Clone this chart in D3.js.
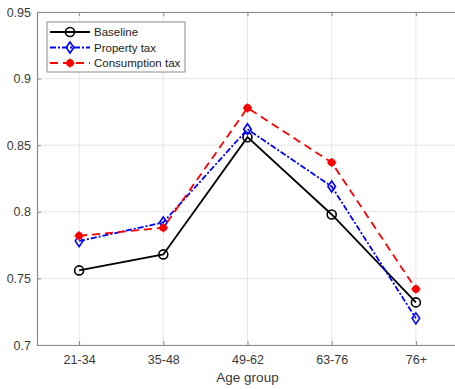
<!DOCTYPE html>
<html>
<head>
<meta charset="utf-8">
<script src="https://cdn.jsdelivr.net/npm/d3@7"></script>
<style>
  body { margin: 0; background: #fff; }
  svg { font-family: Arial, "Liberation Sans", sans-serif; }
</style>
</head>
<body>
<svg id="chart" width="455" height="389"></svg>
<script>
const ageGroups = ['21-34', '35-48', '49-62', '63-76', '76+'];
const baseline = [0.756, 0.768, 0.856, 0.798, 0.732];
const propertyTax = [0.778, 0.792, 0.862, 0.819, 0.720];
const consumptionTax = [0.782, 0.788, 0.878, 0.837, 0.742];
const yTicks = [0.7, 0.75, 0.8, 0.85, 0.9, 0.95];

const svg = d3.select('#chart');
const margin = { top: 12, right: -3, bottom: 44, left: 37 };
const width = +svg.attr('width') - margin.left - margin.right;
const height = +svg.attr('height') - margin.top - margin.bottom;
const g = svg.append('g').attr('transform', `translate(${margin.left},${margin.top})`);

const x = d3.scaleLinear().domain([0.5, 5.5]).range([0, width]);
const y = d3.scaleLinear().domain([0.7, 0.95]).range([height, 0]);

const axisColor = '#8a8a8a';
const textColor = '#3a3a3a';

// grid
g.append('g')
  .selectAll('line')
  .data(ageGroups)
  .enter()
  .append('line')
  .attr('x1', (d, i) => x(i + 1))
  .attr('x2', (d, i) => x(i + 1))
  .attr('y1', 0)
  .attr('y2', height)
  .attr('stroke', '#e6e6e6');

g.append('g')
  .selectAll('line')
  .data(yTicks)
  .enter()
  .append('line')
  .attr('x1', 0)
  .attr('x2', width)
  .attr('y1', d => y(d))
  .attr('y2', d => y(d))
  .attr('stroke', '#e6e6e6');

// axes
const xAxis = g.append('g')
  .attr('transform', `translate(0,${height})`)
  .call(d3.axisBottom(x)
    .tickValues(d3.range(1, ageGroups.length + 1))
    .tickFormat(d => ageGroups[d - 1])
    .tickSizeInner(-4)
    .tickSizeOuter(0)
    .tickPadding(10));

const yAxis = g.append('g')
  .call(d3.axisLeft(y)
    .tickValues(yTicks)
    .tickFormat(d => d3.format('')(+d.toFixed(2)))
    .tickSizeInner(-4)
    .tickSizeOuter(0)
    .tickPadding(6));

const topAxis = g.append('g')
  .call(d3.axisTop(x)
    .tickValues(d3.range(1, ageGroups.length + 1))
    .tickFormat('')
    .tickSizeInner(-4)
    .tickSizeOuter(0));

[xAxis, yAxis, topAxis].forEach((a) => {
  a.select('.domain').attr('stroke', axisColor).attr('stroke-width', 1.2);
  a.selectAll('.tick line').attr('stroke', axisColor);
  a.selectAll('.tick text')
    .attr('fill', textColor)
    .attr('font-size', 12.5)
    .attr('font-family', 'Arial, "Liberation Sans", sans-serif');
});

g.append('text')
  .attr('x', (x(0.5) + x(5.5)) / 2)
  .attr('y', height + 37)
  .attr('text-anchor', 'middle')
  .attr('fill', textColor)
  .attr('font-size', 13.5)
  .text('Age group');

const series = [
  { name: 'Baseline', values: baseline, color: '#000', dash: null, marker: 'circle' },
  { name: 'Property tax', values: propertyTax, color: '#0000ff', dash: '6,2,2,2', marker: 'diamond' },
  { name: 'Consumption tax', values: consumptionTax, color: '#ff0000', dash: '8,5', marker: 'dot' },
];

const line = d3.line()
  .x((d, i) => x(i + 1))
  .y(d => y(d));

function drawMarker(sel, s, cx, cy) {
  if (s.marker === 'circle') {
    sel.append('circle')
      .attr('cx', cx).attr('cy', cy).attr('r', 4.5)
      .attr('fill', 'none').attr('stroke', s.color).attr('stroke-width', 1.6);
  } else if (s.marker === 'diamond') {
    sel.append('path')
      .attr('d', `M${cx},${cy - 5.5}L${cx + 3.8},${cy}L${cx},${cy + 5.5}L${cx - 3.8},${cy}Z`)
      .attr('fill', 'none').attr('stroke', s.color).attr('stroke-width', 1.6);
  } else {
    sel.append('circle')
      .attr('cx', cx).attr('cy', cy).attr('r', 3.8)
      .attr('fill', s.color);
    sel.append('path')
      .attr('d', `M${cx - 4.5},${cy}H${cx + 4.5}M${cx},${cy - 4.5}V${cy + 4.5}`)
      .attr('stroke', s.color).attr('stroke-width', 1.5);
  }
}

series.forEach((s) => {
  g.append('path')
    .datum(s.values)
    .attr('d', line)
    .attr('fill', 'none')
    .attr('stroke', s.color)
    .attr('stroke-width', 1.8)
    .attr('stroke-dasharray', s.dash);
  const m = g.append('g');
  s.values.forEach((v, i) => drawMarker(m, s, x(i + 1), y(v)));
});

// legend
const legend = g.append('g').attr('transform', 'translate(10,10)');
legend.append('rect')
  .attr('width', 138)
  .attr('height', 50)
  .attr('fill', '#fff')
  .attr('stroke', '#8a8a8a');

series.forEach((s, i) => {
  const ly = 10 + i * 15.5;
  const row = legend.append('g');
  row.append('line')
    .attr('x1', 3).attr('x2', 43)
    .attr('y1', ly).attr('y2', ly)
    .attr('stroke', s.color)
    .attr('stroke-width', 1.8)
    .attr('stroke-dasharray', s.dash);
  drawMarker(row, s, 23, ly);
  row.append('text')
    .attr('x', 47)
    .attr('y', ly)
    .attr('dy', '0.35em')
    .attr('font-size', 11.5)
    .attr('fill', '#222')
    .text(s.name);
});
</script>
</body>
</html>
